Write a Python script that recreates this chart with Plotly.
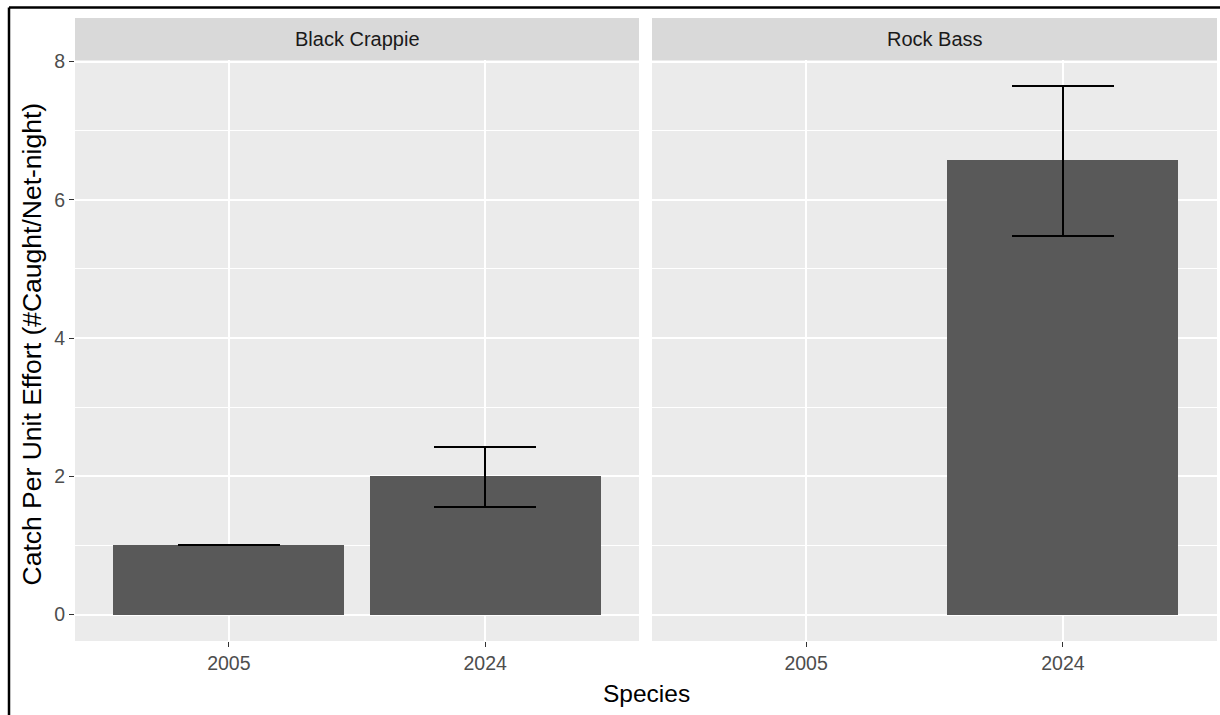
import plotly.graph_objects as go

# Catch per unit effort by species and survey year
years = ["2005", "2024"]
crappie_cpue = [1.0, 2.0]
crappie_low = [1.0, 1.55]
crappie_high = [1.0, 2.43]
rockbass_cpue = [None, 6.57]
rockbass_low = [None, 5.48]
rockbass_high = [None, 7.65]
species = ["Black Crappie", "Rock Bass"]
y_ticks = [0, 2, 4, 6, 8]

W, H = 1220, 715
BAR = "#595959"
PANEL = "#EBEBEB"
STRIP = "#D9D9D9"
FONT = "Liberation Sans, Arial, sans-serif"

# panel geometry in pixels
p1 = (75, 639)
p2 = (652, 1217)
ptop, pbot = 60, 641
strip_top = 18


def px_x(x):
    return x / W


def px_y(y):
    return 1 - y / H


def err(vals, lo, hi):
    plus = [None if v is None else h - v for v, h in zip(vals, hi)]
    minus = [None if v is None else v - l for v, l in zip(vals, lo)]
    return dict(type="data", symmetric=False, array=plus, arrayminus=minus,
                color="black", thickness=2, width=51, visible=True)


fig = go.Figure()
fig.add_trace(go.Bar(x=years, y=crappie_cpue, width=0.9, marker_color=BAR,
                     marker_line_width=0, error_y=err(crappie_cpue, crappie_low, crappie_high),
                     xaxis="x", yaxis="y", showlegend=False))
fig.add_trace(go.Bar(x=years, y=rockbass_cpue, width=0.9, marker_color=BAR,
                     marker_line_width=0, error_y=err(rockbass_cpue, rockbass_low, rockbass_high),
                     xaxis="x2", yaxis="y2", showlegend=False))

ydom = [px_y(pbot), px_y(ptop)]
yrange = [-0.382, 8.022]

xcommon = dict(type="category", categoryorder="array", categoryarray=years,
               range=[-0.6, 1.6], showgrid=True, gridcolor="white", gridwidth=1.6,
               zeroline=False, ticks="outside", ticklen=5, tickwidth=1.4,
               tickcolor="#333333", showline=False, automargin=False,
               tickfont=dict(family=FONT, size=19.5, color="#4D4D4D"))
ycommon = dict(range=yrange, tickvals=y_ticks, showgrid=True, gridcolor="white",
               gridwidth=1.6, zeroline=False, showline=False, automargin=False,
               minor=dict(dtick=1, tick0=0, showgrid=True, gridcolor="white", gridwidth=0.8),
               domain=ydom)

fig.update_layout(
    width=W, height=H,
    margin=dict(l=0, r=0, t=0, b=0, pad=0, autoexpand=False),
    paper_bgcolor="white",
    plot_bgcolor=PANEL,
    bargap=0,
    xaxis=dict(domain=[px_x(p1[0]), px_x(p1[1])], anchor="y", **xcommon),
    xaxis2=dict(domain=[px_x(p2[0]), px_x(p2[1])], anchor="y2", **xcommon),
    yaxis=dict(anchor="x", ticks="outside", ticklen=5, tickwidth=1.4, tickcolor="#333333",
               tickfont=dict(family=FONT, size=19.5, color="#4D4D4D"), **ycommon),
    yaxis2=dict(anchor="x2", matches="y", showticklabels=False, ticks="", **ycommon),
)

shapes = []
annotations = []
for name, (x0, x1) in zip(species, [p1, p2]):
    shapes.append(dict(type="rect", xref="paper", yref="paper",
                       x0=px_x(x0), x1=px_x(x1), y0=px_y(ptop), y1=px_y(strip_top),
                       fillcolor=STRIP, line_width=0, layer="below"))
    annotations.append(dict(text=name, xref="paper", yref="paper",
                            x=px_x((x0 + x1) / 2), y=px_y((ptop + strip_top) / 2),
                            xanchor="center", yanchor="middle", showarrow=False,
                            font=dict(family=FONT, size=20, color="#1A1A1A")))

# frame lines along the top and left edges
shapes.append(dict(type="line", xref="paper", yref="paper", x0=px_x(9), x1=1.0,
                   y0=px_y(7.5), y1=px_y(7.5), line=dict(color="black", width=2.5)))
shapes.append(dict(type="line", xref="paper", yref="paper", x0=px_x(9), x1=px_x(9),
                   y0=px_y(7.5), y1=0, line=dict(color="black", width=2.5)))

annotations.append(dict(text="Species", xref="paper", yref="paper",
                        x=px_x((p1[0] + p2[1]) / 2), y=px_y(693),
                        xanchor="center", yanchor="middle", showarrow=False,
                        font=dict(family=FONT, size=24.5, color="black")))
annotations.append(dict(text="Catch Per Unit Effort (#Caught/Net-night)", xref="paper", yref="paper",
                        x=px_x(31), y=px_y((ptop + pbot) / 2 - 6), textangle=-90,
                        xanchor="center", yanchor="middle", showarrow=False,
                        font=dict(family=FONT, size=26.5, color="black")))

fig.update_layout(shapes=shapes, annotations=annotations)
fig.write_html("out.html")
